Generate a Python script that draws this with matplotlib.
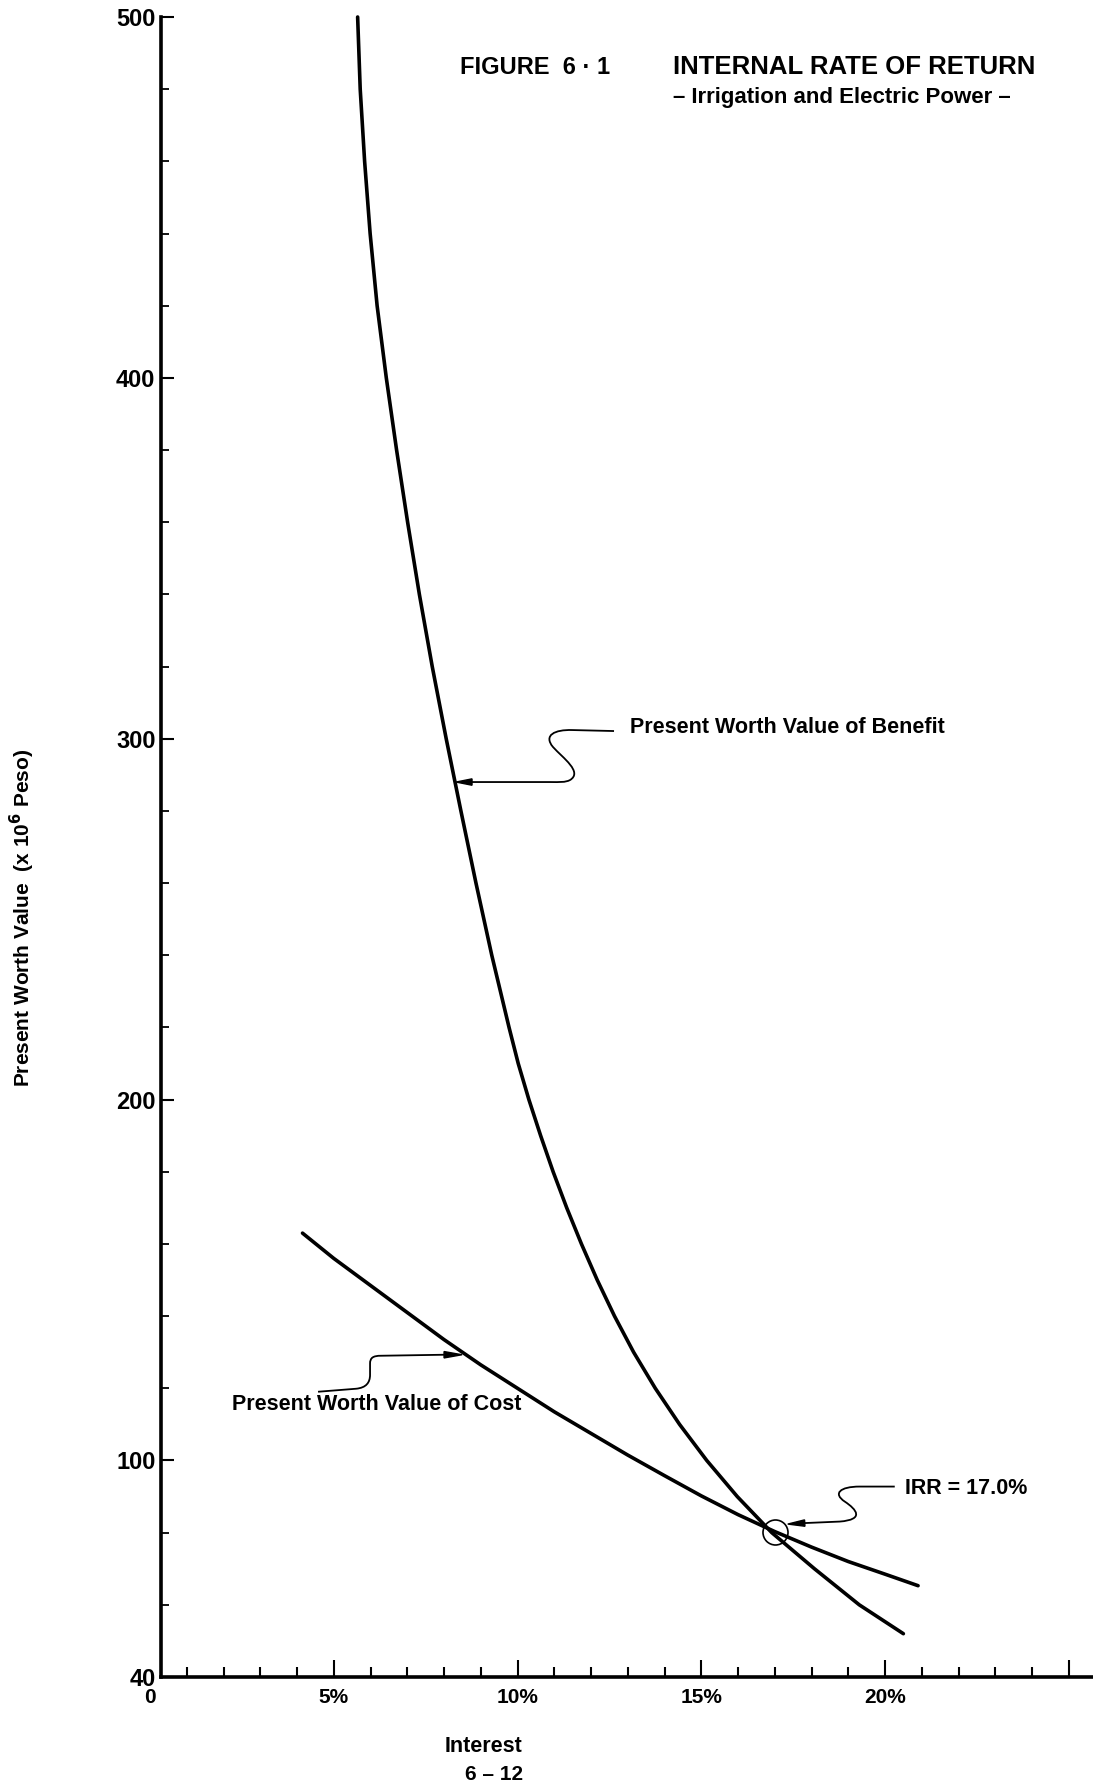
import numpy as np
import matplotlib.pyplot as plt
import matplotlib.transforms as mtransforms
from matplotlib.path import Path
from matplotlib.patches import PathPatch, Polygon
from matplotlib.ticker import FixedLocator, MultipleLocator

plt.rcParams['font.family'] = ['Liberation Sans', 'DejaVu Sans']
plt.rcParams['font.weight'] = 'bold'

# values (interest in %, present worth in 10^6 Peso)
interest_benefit = [5.65, 5.72, 5.84, 5.99, 6.18, 6.43, 6.71, 7.01, 7.33, 7.68, 8.06, 8.46,
                    8.87, 9.30, 9.77, 10.02, 10.31, 10.63, 10.97, 11.34, 11.74, 12.17,
                    12.64, 13.16, 13.75, 14.41, 15.15, 15.98, 16.92, 18.08, 19.3, 20.5]
benefit = [500, 480, 460, 440, 420, 400, 380, 360, 340, 320, 300, 280,
           260, 240, 220, 210, 200, 190, 180, 170, 160, 150,
           140, 130, 120, 110, 100, 90, 80, 70, 60, 52]

interest_cost = [4.15, 5, 6, 7, 8, 9, 10, 11, 12, 13, 14, 15, 16, 17, 18, 19, 20, 20.9]
cost = [163, 156, 148.5, 141, 133.5, 126.5, 120, 113.5, 107.5, 101.5, 95.8, 90.2,
        85, 80.3, 76, 72, 68.5, 65.3]

irr_rate = 17.0

x_ticks = [0, 5, 10, 15, 20, 25]
x_tick_labels = ['0', '5%', '10%', '15%', '20%', '']
y_ticks = [40, 100, 200, 300, 400, 500]
y_tick_labels = ['40', '100', '200', '300', '400', '500']

W, H = 1093, 1789
fig = plt.figure(figsize=(W / 100, H / 100), dpi=100)
ax = fig.add_axes([150 / W, 1 - 1677 / H, 1 - 150 / W, (1677 - 17) / H])

ax.plot(interest_benefit, benefit, color='black', lw=2.6, solid_capstyle='round',
        solid_joinstyle='round', clip_on=False)
ax.plot(interest_cost, cost, color='black', lw=2.6, solid_capstyle='round',
        solid_joinstyle='round', clip_on=False)

xmax = (W - 150) / 36.75
ax.set_xlim(0, xmax)
ax.set_ylim(40, 500)

for s in ['top', 'right']:
    ax.spines[s].set_visible(False)
for s in ['left', 'bottom']:
    ax.spines[s].set_linewidth(2.6)
ax.spines['left'].set_position(('data', 0.3))
ax.spines['bottom'].set_bounds(0.3, xmax)

ax.xaxis.set_major_locator(FixedLocator(x_ticks))
ax.set_xticklabels(x_tick_labels, fontsize=15)
ax.xaxis.set_minor_locator(MultipleLocator(1))
ax.yaxis.set_major_locator(FixedLocator(y_ticks))
ax.set_yticklabels(y_tick_labels, fontsize=17)
ax.yaxis.set_minor_locator(MultipleLocator(20))
ax.tick_params(axis='x', which='major', direction='in', length=12, width=1.5, pad=8)
ax.tick_params(axis='x', which='minor', direction='in', length=7, width=1.5)
ax.tick_params(axis='y', which='major', direction='in', length=9, width=1.5, pad=4)
ax.tick_params(axis='y', which='minor', direction='in', length=6, width=1.3)
ax.xaxis.get_major_ticks()[0].tick1line.set_visible(False)

px = 1 / fig.dpi


def leader(x, y, segments, tip, base, text=None, text_xy=None, ha='left', size=15.5):
    # wavy leader line drawn in pixel offsets from a data point
    trans = fig.dpi_scale_trans + mtransforms.ScaledTranslation(x, y, ax.transData)
    verts, codes = [], []
    for code, pts in segments:
        for p in pts:
            verts.append(p)
            codes.append(code)
    path = Path(np.array(verts) * px, codes)
    ax.add_patch(PathPatch(path, fill=False, lw=1.3, color='black', transform=trans, clip_on=False))
    t = np.array(tip, float)
    b = np.array(base, float)
    d = (t - b) / np.hypot(*(t - b))
    n = np.array([-d[1], d[0]]) * 3.2
    head = np.array([t, b + n, b - n]) * px
    ax.add_patch(Polygon(head, closed=True, color='black', transform=trans, clip_on=False))
    if text:
        ax.text(text_xy[0] * px, text_xy[1] * px, text, transform=trans, ha=ha, va='center',
                fontsize=size)


# benefit label
bx = 8.3
by = np.interp(bx, interest_benefit, benefit)
leader(bx, by,
       [(Path.MOVETO, [(159, 51)]), (Path.LINETO, [(117, 52)]),
        (Path.CURVE4, [(100, 52.5), (88, 47), (98, 35)]),
        (Path.CURVE4, [(108, 24), (128, 10), (115, 2)]),
        (Path.CURVE4, [(110, -0.5), (105, 0), (95, 0)]),
        (Path.LINETO, [(16, 0)])],
       tip=(1, 0), base=(17, 0),
       text='Present Worth Value of Benefit', text_xy=(175, 55))

# cost label
cx = 8.6
cy = np.interp(cx, interest_cost, cost)
leader(cx, cy,
       [(Path.MOVETO, [(-148, -37)]), (Path.LINETO, [(-110, -34)]),
        (Path.CURVE4, [(-100, -33), (-96, -28), (-96, -20)]),
        (Path.LINETO, [(-96, -9)]),
        (Path.CURVE4, [(-96, -3), (-93, -1), (-85, -1)]),
        (Path.LINETO, [(-22, 0)])],
       tip=(-4, 0), base=(-22, 0),
       text='Present Worth Value of Cost', text_xy=(-234, -50))

# IRR marker
iy = np.interp(irr_rate, interest_cost, cost)
ax.plot([irr_rate], [iy], marker='o', ms=18, mfc='none', mec='black', mew=1.2, clip_on=False)
leader(irr_rate, iy,
       [(Path.MOVETO, [(120, 45)]), (Path.LINETO, [(85, 45)]),
        (Path.CURVE4, [(65, 45), (58, 38), (70, 30)]),
        (Path.CURVE4, [(82, 22), (90, 12), (65, 10)]),
        (Path.LINETO, [(30, 8.5)])],
       tip=(13, 7.5), base=(30, 8.5),
       text='IRR = 17.0%', text_xy=(130, 43))

# titles and axis labels
fig.text(460 / W, 1 - 67 / H, 'FIGURE  6 · 1', fontsize=17, ha='left', va='center')
fig.text(673 / W, 1 - 67 / H, 'INTERNAL RATE OF RETURN', fontsize=18.5, ha='left', va='center')
fig.text(673 / W, 1 - 98 / H, '– Irrigation and Electric Power –', fontsize=16, ha='left', va='center')
fig.text(22 / W, 1 - 918 / H, 'Present Worth Value  (x 10$^\\mathbf{6}$ Peso)', fontsize=15,
         rotation=90, ha='center', va='center')
fig.text(483 / W, 1 - 1746 / H, 'Interest', fontsize=15.5, ha='center', va='center')
fig.text(494 / W, 1 - 1775 / H, '6 – 12', fontsize=15, ha='center', va='center')

fig.savefig('out.png', dpi=100, facecolor='white')
